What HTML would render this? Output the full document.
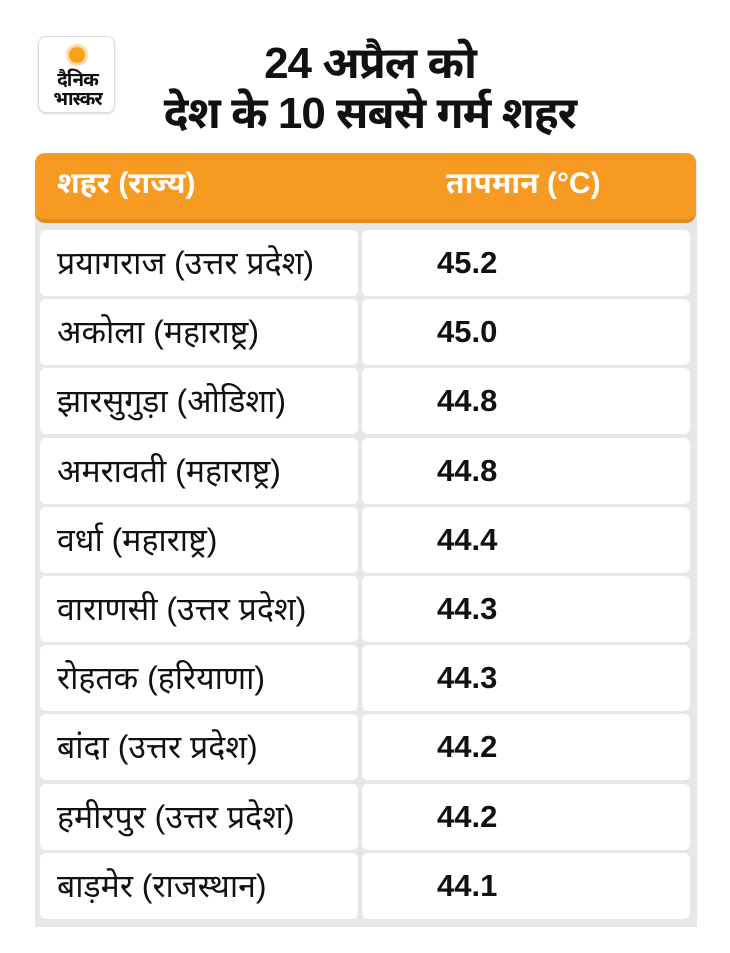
<!DOCTYPE html>
<html><head><meta charset="utf-8">
<style>
*{margin:0;padding:0;box-sizing:border-box}
body{width:730px;height:953px;background:#fff;position:relative;overflow:hidden;font-family:"Liberation Sans","Noto Sans Devanagari","Lohit Devanagari","FreeSans",sans-serif}
.logo{position:absolute;left:38px;top:36px;width:77px;height:77px;border:1px solid #ddd;border-radius:8px;background:#fff;box-shadow:0 1px 2px rgba(0,0,0,.15);text-align:center}
.sun{position:absolute;left:30px;top:10px;width:16px;height:16px;border-radius:50%;background:#f7a21b;box-shadow:0 0 0 3px rgba(247,162,27,.4)}
.lt{position:absolute;left:0;width:77px;font-weight:bold;font-size:19px;line-height:20px;color:#111;letter-spacing:-1px}
.title{position:absolute;left:130px;width:480px;text-align:center;font-weight:bold;font-size:44px;color:#111;line-height:48px;letter-spacing:-1px}
.panel{position:absolute;left:35px;top:153px;width:662px;height:774px;background:#e6e7e6;border-radius:10px 10px 0 0}
.head{position:absolute;left:35px;top:153px;width:661px;height:70px;background:#f79a22;border-radius:10px;border-bottom:4px solid #e08a1c}
.h{position:absolute;top:14px;color:#fff;font-weight:bold;font-size:30px}
.cell{position:absolute;background:#fff;border-radius:6px;height:66px}
.name{font-size:32px;color:#111;line-height:66px;padding-left:17px;letter-spacing:0}
.val{font-size:31px;font-weight:bold;color:#111;line-height:66px;padding-left:75px;letter-spacing:0}
</style></head><body>
<div class="logo">
<div class="sun"></div>
<div class="lt" style="top:34px">दैनिक</div>
<div class="lt" style="top:53px">भास्कर</div>
</div>
<div class="title" style="top:40px">24 अप्रैल को</div>
<div class="title" style="top:90px">देश के 10 सबसे गर्म शहर</div>
<div class="panel"></div>
<div class="head">
<div class="h" style="left:22px">शहर (राज्य)</div>
<div class="h" style="left:411px">तापमान (°C)</div>
</div>
<div id="rows"></div>
<script>
const cities=["प्रयागराज (उत्तर प्रदेश)","अकोला (महाराष्ट्र)","झारसुगुड़ा (ओडिशा)","अमरावती (महाराष्ट्र)","वर्धा (महाराष्ट्र)","वाराणसी (उत्तर प्रदेश)","रोहतक (हरियाणा)","बांदा (उत्तर प्रदेश)","हमीरपुर (उत्तर प्रदेश)","बाड़मेर (राजस्थान)"];
const temps=["45.2","45.0","44.8","44.8","44.4","44.3","44.3","44.2","44.2","44.1"];
const rows=document.getElementById('rows');
cities.forEach((c,i)=>{
 const top=230+i*69.2;
 const a=document.createElement('div');
 a.className='cell name';a.style.left='40px';a.style.width='318px';a.style.top=top+'px';a.textContent=c;
 
 
 const b=document.createElement('div');
 b.className='cell val';b.style.left='362px';b.style.width='328px';b.style.top=top+'px';b.textContent=temps[i];
 
 
 rows.appendChild(a);rows.appendChild(b);
});
</script>
</body></html>
